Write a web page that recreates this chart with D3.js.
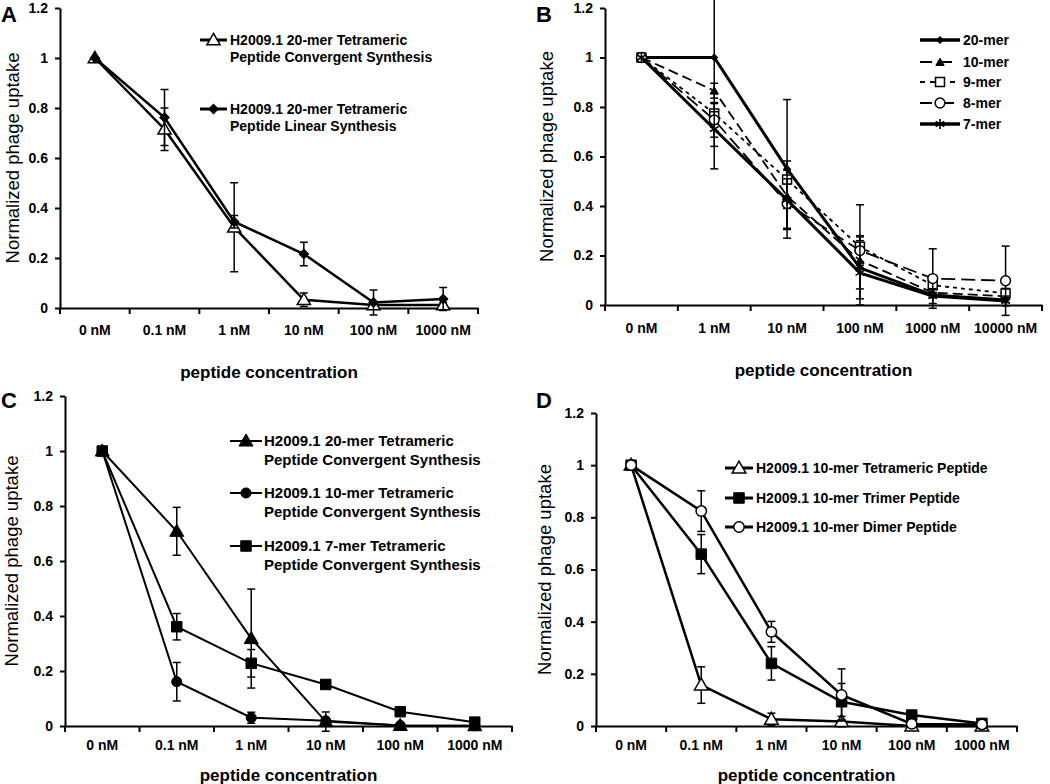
<!DOCTYPE html>
<html><head><meta charset="utf-8">
<script src="https://cdn.jsdelivr.net/npm/d3@7"></script>
<style>
body{margin:0;background:#fff}
svg{display:block}
text{font-family:"Liberation Sans",Arial,sans-serif;fill:#000}
</style>
</head><body>
<svg id="chart" width="1050" height="784"></svg>
<script>
// ---------- data ----------
const catsA = ["0 nM","0.1 nM","1 nM","10 nM","100 nM","1000 nM"];
const catsB = ["0 nM","1 nM","10 nM","100 nM","1000 nM","10000 nM"];
const catsC = ["0 nM","0.1 nM","1 nM","10 nM","100 nM","1000 nM"];
const catsD = ["0 nM","0.1 nM","1 nM","10 nM","100 nM","1000 nM"];
const yTicks = [0,0.2,0.4,0.6,0.8,1,1.2];
const yTickLabels = ["0","0.2","0.4","0.6","0.8","1","1.2"];
const yTitle = "Normalized phage uptake";
const xTitle = "peptide concentration";

// Panel A
const aConvVals = [1, 0.715, 0.323, 0.033, 0.012, 0.012];
const aConvErr  = [0, 0.085, 0.178, 0.027, 0.01, 0.01];
const aLinVals  = [1, 0.762, 0.345, 0.216, 0.022, 0.036];
const aLinErr   = [0, 0.112, 0.025, 0.047, 0.05, 0.046];
const aNames = [["H2009.1 20-mer Tetrameric","Peptide Convergent Synthesis"],
                ["H2009.1 20-mer Tetrameric","Peptide Linear Synthesis"]];

// Panel B
const b20Vals = [1, 1.0, 0.55, 0.15, 0.04, 0.02];
const b20Err  = [0, 0.45, 0.28, 0.125, 0.01, 0.01];
const b10Vals = [1, 0.866, 0.44, 0.18, 0.05, 0.035];
const b10Err  = [0, 0.03, 0.05, 0.03, 0.02, 0.01];
const b9Vals  = [1, 0.774, 0.507, 0.235, 0.08, 0.047];
const b9Err   = [0, 0.04, 0.075, 0.17, 0.03, 0.02];
const b8Vals  = [1, 0.748, 0.41, 0.22, 0.107, 0.098];
const b8Err   = [0, 0.07, 0.10, 0.06, 0.12, 0.14];
const b7Vals  = [1, 0.711, 0.425, 0.13, 0.036, 0.016];
const b7Err   = [0, 0.07, 0.12, 0.13, 0.03, 0.02];
const bNames = ["20-mer","10-mer","9-mer","8-mer","7-mer"];

// Panel C
const c20Vals = [1, 0.708, 0.318, 0.016, 0.002, 0.001];
const c20Err  = [0, 0.087, 0.18, 0.035, 0, 0];
const c10Vals = [1, 0.161, 0.03, 0.019, 0.002, 0.001];
const c10Err  = [0, 0.07, 0.02, 0.01, 0, 0];
const c7Vals  = [1, 0.361, 0.228, 0.151, 0.052, 0.014];
const c7Err   = [0, 0.048, 0.05, 0.01, 0.01, 0.005];
const cNames = [["H2009.1 20-mer Tetrameric","Peptide Convergent Synthesis"],
                ["H2009.1 10-mer Tetrameric","Peptide Convergent Synthesis"],
                ["H2009.1 7-mer Tetrameric","Peptide Convergent Synthesis"]];

// Panel D
const dTetVals = [1, 0.157, 0.026, 0.017, 0.0, 0.0];
const dTetErr  = [0, 0.07, 0.023, 0.02, 0, 0];
const dTriVals = [1, 0.659, 0.24, 0.093, 0.042, 0.01];
const dTriErr  = [0, 0.075, 0.064, 0.07, 0.005, 0.005];
const dDimVals = [1, 0.824, 0.361, 0.119, 0.008, 0.006];
const dDimErr  = [0, 0.078, 0.04, 0.1, 0.005, 0.005];
const dNames = ["H2009.1 10-mer Tetrameric Peptide","H2009.1 10-mer Trimer Peptide","H2009.1 10-mer Dimer Peptide"];

// ---------- drawing ----------
const svg = d3.select("#chart");

function symbolPath(type, size) {
  const map = {triangle:d3.symbolTriangle, square:d3.symbolSquare, circle:d3.symbolCircle,
               diamond:d3.symbolSquare, asterisk:d3.symbolAsterisk};
  return d3.symbol().type(map[type]).size(size)();
}

function drawMarker(g, x, y, s) {
  const p = g.append("path")
    .attr("d", symbolPath(s.symbol, s.size))
    .attr("transform", `translate(${x},${y})` + (s.symbol === "diamond" ? " rotate(45)" : "") +
          (s.symbol === "triangle" ? " translate(0,1)" : ""));
  if (s.symbol === "asterisk") {
    p.attr("fill","none").attr("stroke","#000").attr("stroke-width",1.6);
  } else {
    p.attr("fill", s.open ? "#fff" : "#000").attr("stroke","#000").attr("stroke-width", s.open ? 1.5 : 1);
  }
}

function panel(o) {
  const g = svg.append("g");
  const x = d3.scaleBand().domain(o.cats).range([o.left, o.right]).padding(0);
  const y = d3.scaleLinear().domain([0, 1.2]).range([o.bottom, o.top]);

  // y axis
  const ya = g.append("g").attr("transform", `translate(${o.left},0)`)
    .call(d3.axisLeft(y).tickValues(yTicks).tickSize(5).tickSizeOuter(0).tickPadding(7)
      .tickFormat((d,i) => yTickLabels[i]));
  ya.select(".domain").attr("stroke-width", 2);
  ya.selectAll(".tick line").attr("stroke-width", 2);
  ya.selectAll(".tick text").attr("font-size", 14).attr("font-weight", "bold")
    .attr("font-family", '"Liberation Sans",Arial,sans-serif').attr("fill","#000");

  // x axis: labels at band centers, ticks at band edges
  const xa = g.append("g").attr("transform", `translate(0,${o.bottom})`)
    .call(d3.axisBottom(x).tickSize(0).tickSizeOuter(0));
  xa.select(".domain").attr("stroke-width", 2);
  xa.selectAll(".tick text").attr("font-size", 14).attr("font-weight", "bold")
    .attr("font-family", '"Liberation Sans",Arial,sans-serif').attr("fill","#000")
    .attr("y", o.xLabelOff).attr("dy", "0.35em");
  const edges = o.cats.map(c => x(c)).concat([o.right]);
  g.selectAll(null).data(edges).enter().append("line")
    .attr("x1", d => d).attr("x2", d => d)
    .attr("y1", o.bottom).attr("y2", o.bottom + 6)
    .attr("stroke", "#000").attr("stroke-width", 2);

  // titles
  g.append("text").attr("x", (o.left + o.right) / 2).attr("y", o.xTitleY)
    .attr("text-anchor", "middle").attr("dy","0.35em")
    .attr("font-size", 17).attr("font-weight", "bold").text(xTitle);
  g.append("text")
    .attr("transform", `translate(${o.yTitleX},${(o.top + o.bottom) / 2}) rotate(-90)`)
    .attr("text-anchor", "middle").attr("dy","0.35em")
    .attr("font-size", 18.5).text(yTitle);
  g.append("text").attr("x", o.letterX).attr("y", o.letterY)
    .attr("font-size", 22).attr("font-weight", "bold").text(o.letter);

  // series
  const cx = c => x(c) + x.bandwidth() / 2;
  o.series.forEach(s => {
    const pts = o.cats.map((c, i) => ({c, v: s.vals[i], e: s.err[i]}));
    // error bars
    pts.filter(p => p.e > 0).forEach(p => {
      const px = cx(p.c);
      g.append("line").attr("x1", px).attr("x2", px)
        .attr("y1", y(p.v - p.e)).attr("y2", y(p.v + p.e))
        .attr("stroke", "#000").attr("stroke-width", 1.5);
      [p.v - p.e, p.v + p.e].forEach(v => {
        g.append("line").attr("x1", px - 4).attr("x2", px + 4)
          .attr("y1", y(v)).attr("y2", y(v))
          .attr("stroke", "#000").attr("stroke-width", 1.5);
      });
    });
    // line
    g.append("path").datum(pts)
      .attr("d", d3.line().x(p => cx(p.c)).y(p => y(p.v)))
      .attr("fill", "none").attr("stroke", "#000")
      .attr("stroke-width", s.width)
      .attr("stroke-dasharray", s.dash || null);
    // markers
    pts.forEach(p => drawMarker(g, cx(p.c), y(p.v), s));
  });

  // legend
  o.legend.entries.forEach((en, i) => {
    const s = o.series[i];
    const ly = en.y;
    g.append("line").attr("x1", o.legend.x0).attr("x2", o.legend.x1)
      .attr("y1", ly).attr("y2", ly)
      .attr("stroke", "#000").attr("stroke-width", s.legendWidth || s.width)
      .attr("stroke-dasharray", s.legendDash || null);
    drawMarker(g, (o.legend.x0 + o.legend.x1) / 2, ly, s);
    en.lines.forEach((t, j) => {
      g.append("text").attr("x", o.legend.textX).attr("y", ly + j * o.legend.lineGap)
        .attr("dy", "0.35em").attr("font-size", o.legend.fontSize).attr("font-weight", "bold")
        .text(t);
    });
  });
}

// Panel A
panel({
  letter: "A", letterX: 1, letterY: 22,
  left: 60, right: 478, bottom: 308, top: 8,
  cats: catsA, xLabelOff: 22, xTitleY: 372, yTitleX: 13,
  series: [
    {vals: aConvVals, err: aConvErr, symbol: "triangle", size: 75, open: true, width: 2.5, legendWidth: 3},
    {vals: aLinVals, err: aLinErr, symbol: "diamond", size: 45, width: 2.5, legendWidth: 3}
  ],
  legend: {x0: 200, x1: 227, textX: 230, fontSize: 14, lineGap: 17,
    entries: [{y: 40, lines: aNames[0]}, {y: 109, lines: aNames[1]}]}
});

// Panel B
panel({
  letter: "B", letterX: 536, letterY: 22,
  left: 605, right: 1042, bottom: 305, top: 8,
  cats: catsB, xLabelOff: 23, xTitleY: 370, yTitleX: 547,
  series: [
    {vals: b20Vals, err: b20Err, symbol: "diamond", size: 22, width: 3, legendWidth: 3.5},
    {vals: b10Vals, err: b10Err, symbol: "triangle", size: 30, width: 1.8, dash: "10,5", legendDash: "12,8"},
    {vals: b9Vals, err: b9Err, symbol: "square", size: 80, open: true, width: 1.8, dash: "4,4", legendDash: "5,5"},
    {vals: b8Vals, err: b8Err, symbol: "circle", size: 75, open: true, width: 1.8, dash: "14,6", legendDash: "12,10"},
    {vals: b7Vals, err: b7Err, symbol: "asterisk", size: 70, width: 3, legendWidth: 3.5}
  ],
  legend: {x0: 920, x1: 960, textX: 963, fontSize: 14, lineGap: 17,
    entries: bNames.map((n, i) => ({y: [40, 62, 82, 103, 124][i], lines: [n]}))}
});

// Panel C
panel({
  letter: "C", letterX: 1, letterY: 408,
  left: 65, right: 512, bottom: 726, top: 396,
  cats: catsC, xLabelOff: 19, xTitleY: 775, yTitleX: 12,
  series: [
    {vals: c20Vals, err: c20Err, symbol: "triangle", size: 85, width: 2},
    {vals: c10Vals, err: c10Err, symbol: "circle", size: 80, width: 2},
    {vals: c7Vals, err: c7Err, symbol: "square", size: 110, width: 2}
  ],
  legend: {x0: 230, x1: 262, textX: 264, fontSize: 15, lineGap: 19,
    entries: [{y: 441, lines: cNames[0]}, {y: 493, lines: cNames[1]}, {y: 546, lines: cNames[2]}]}
});

// Panel D
panel({
  letter: "D", letterX: 536, letterY: 408,
  left: 596, right: 1017, bottom: 726, top: 413,
  cats: catsD, xLabelOff: 19, xTitleY: 775, yTitleX: 545,
  series: [
    {vals: dTetVals, err: dTetErr, symbol: "triangle", size: 80, open: true, width: 2.5, legendWidth: 3},
    {vals: dTriVals, err: dTriErr, symbol: "square", size: 110, width: 2.5, legendWidth: 3},
    {vals: dDimVals, err: dDimErr, symbol: "circle", size: 85, open: true, width: 2.5, legendWidth: 3}
  ],
  legend: {x0: 725, x1: 753, textX: 756, fontSize: 14, lineGap: 17,
    entries: dNames.map((n, i) => ({y: [468, 498, 527][i], lines: [n]}))}
});
</script>
</body></html>
